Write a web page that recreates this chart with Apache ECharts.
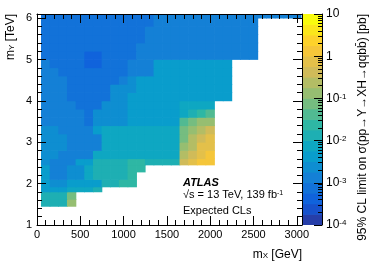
<!DOCTYPE html>
<html><head><meta charset="utf-8">
<script src="https://cdn.jsdelivr.net/npm/echarts@6/dist/echarts.min.js"></script>
<style>html,body{margin:0;padding:0;background:#fff}#c{width:374px;height:269px}</style>
</head><body><div id="c"></div>
<script>
// ---- data (expected 95% CL limit in pb) ----
const mX = [100,200,300,400,500,600,700,800,900,1000,1100,1200,1300,1400,1500,1600,1700,1800,1900,2000,2100,2200,2300,2400,2500,2600,2700,2800,2900,3000]; // GeV, bin centres
const mXBinWidth = 100;
const mYLow  = [1.45,1.62,1.80,1.92,2.10,2.28,2.45,2.60,2.80,3.00,3.20,3.40,3.60,3.80,4.00,4.20,4.40,4.60,4.80,5.00,5.20,5.40,5.60,5.80,6.00]; // TeV
const mYHigh = [1.62,1.80,1.92,2.10,2.28,2.45,2.60,2.80,3.00,3.20,3.40,3.60,3.80,4.00,4.20,4.40,4.60,4.80,5.00,5.20,5.40,5.60,5.80,6.00,6.10];

const row_1p45 = [0.013,0.013,0.013,0.13];
const row_1p62 = [0.013,0.013,0.013,0.075];
const row_1p80 = [4.2e-3,4.2e-3,4.2e-3,7.5e-3,7.5e-3,7.5e-3,0.013];
const row_1p92 = [4.2e-3,2.4e-3,2.4e-3,4.2e-3,4.2e-3,4.2e-3,4.2e-3,0.013,0.013,0.024,0.024];
const row_2p10 = [4.2e-3,1.3e-3,1.3e-3,2.4e-3,2.4e-3,7.5e-3,0.013,0.013,0.013,0.013,0.024];
const row_2p28 = [4.2e-3,1.3e-3,1.3e-3,2.4e-3,2.4e-3,7.5e-3,0.013,0.013,0.013,0.013,0.024,0.024];
const row_2p45 = [2.4e-3,1.3e-3,1.3e-3,1.3e-3,4.2e-3,4.2e-3,0.013,0.013,0.013,0.013,0.024,0.024,0.013,0.013,0.013,0.013,0.42,0.75,1.3,1.3];
const row_2p60 = [2.4e-3,2.4e-3,1.3e-3,1.3e-3,1.3e-3,1.3e-3,7.5e-3,7.5e-3,7.5e-3,7.5e-3,7.5e-3,7.5e-3,7.5e-3,7.5e-3,7.5e-3,7.5e-3,0.24,0.42,0.75,1.3];
const row_2p80 = [2.4e-3,2.4e-3,2.4e-3,1.3e-3,1.3e-3,1.3e-3,1.3e-3,7.5e-3,7.5e-3,7.5e-3,7.5e-3,7.5e-3,7.5e-3,7.5e-3,7.5e-3,7.5e-3,0.13,0.24,0.75,0.75];
const row_3p00 = [2.4e-3,2.4e-3,2.4e-3,1.3e-3,1.3e-3,1.3e-3,1.3e-3,7.5e-3,7.5e-3,7.5e-3,7.5e-3,7.5e-3,7.5e-3,7.5e-3,7.5e-3,7.5e-3,0.075,0.24,0.42,0.75];
const row_3p20 = [2.4e-3,2.4e-3,1.3e-3,1.3e-3,1.3e-3,1.3e-3,4.2e-3,7.5e-3,7.5e-3,7.5e-3,7.5e-3,7.5e-3,7.5e-3,7.5e-3,7.5e-3,7.5e-3,0.075,0.13,0.24,0.42];
const row_3p40 = [1.3e-3,1.3e-3,1.3e-3,1.3e-3,1.3e-3,7.5e-4,2.4e-3,2.4e-3,2.4e-3,2.4e-3,4.2e-3,4.2e-3,4.2e-3,4.2e-3,4.2e-3,4.2e-3,0.042,0.075,0.13,0.13];
const row_3p60 = [1.3e-3,1.3e-3,1.3e-3,1.3e-3,1.3e-3,7.5e-4,2.4e-3,2.4e-3,2.4e-3,2.4e-3,4.2e-3,4.2e-3,4.2e-3,4.2e-3,4.2e-3,4.2e-3,7.5e-3,0.013,0.024,0.042];
const row_3p80 = [1.3e-3,1.3e-3,1.3e-3,1.3e-3,7.5e-4,7.5e-4,7.5e-4,2.4e-3,2.4e-3,2.4e-3,4.2e-3,4.2e-3,4.2e-3,4.2e-3,4.2e-3,4.2e-3,7.5e-3,7.5e-3,7.5e-3,7.5e-3];
const row_4p00 = [1.3e-3,1.3e-3,1.3e-3,7.5e-4,7.5e-4,7.5e-4,7.5e-4,7.5e-4,2.4e-3,2.4e-3,4.2e-3,4.2e-3,4.2e-3,4.2e-3,4.2e-3,4.2e-3,4.2e-3,4.2e-3,4.2e-3,4.2e-3,4.2e-3,4.2e-3];
const row_4p20 = [1.3e-3,1.3e-3,1.3e-3,7.5e-4,7.5e-4,7.5e-4,7.5e-4,7.5e-4,2.4e-3,2.4e-3,2.4e-3,4.2e-3,4.2e-3,4.2e-3,4.2e-3,4.2e-3,4.2e-3,4.2e-3,4.2e-3,4.2e-3,4.2e-3,4.2e-3];
const row_4p40 = [1.3e-3,1.3e-3,1.3e-3,7.5e-4,7.5e-4,7.5e-4,7.5e-4,7.5e-4,7.5e-4,1.3e-3,2.4e-3,4.2e-3,4.2e-3,4.2e-3,4.2e-3,4.2e-3,4.2e-3,4.2e-3,4.2e-3,4.2e-3,4.2e-3,4.2e-3];
const row_4p60 = [1.3e-3,1.3e-3,7.5e-4,7.5e-4,7.5e-4,7.5e-4,7.5e-4,7.5e-4,7.5e-4,7.5e-4,1.3e-3,1.3e-3,1.3e-3,4.2e-3,4.2e-3,4.2e-3,4.2e-3,4.2e-3,4.2e-3,4.2e-3,4.2e-3,4.2e-3];
const row_4p80 = [1.3e-3,7.5e-4,7.5e-4,7.5e-4,7.5e-4,4.2e-4,4.2e-4,7.5e-4,7.5e-4,7.5e-4,1.3e-3,1.3e-3,1.3e-3,4.2e-3,4.2e-3,4.2e-3,4.2e-3,4.2e-3,4.2e-3,4.2e-3,4.2e-3,4.2e-3];
const row_5p00 = [7.5e-4,7.5e-4,7.5e-4,7.5e-4,7.5e-4,4.2e-4,4.2e-4,7.5e-4,7.5e-4,7.5e-4,7.5e-4,1.3e-3,1.3e-3,1.3e-3,1.3e-3,1.3e-3,1.3e-3,1.3e-3,1.3e-3,1.3e-3,1.3e-3,1.3e-3,1.3e-3,1.3e-3,1.3e-3];
const row_5p20 = [7.5e-4,7.5e-4,7.5e-4,7.5e-4,7.5e-4,7.5e-4,7.5e-4,7.5e-4,7.5e-4,7.5e-4,7.5e-4,1.3e-3,1.3e-3,1.3e-3,1.3e-3,1.3e-3,1.3e-3,1.3e-3,1.3e-3,1.3e-3,1.3e-3,1.3e-3,1.3e-3,1.3e-3,1.3e-3];
const row_5p40 = [7.5e-4,7.5e-4,7.5e-4,7.5e-4,7.5e-4,7.5e-4,7.5e-4,7.5e-4,7.5e-4,7.5e-4,7.5e-4,7.5e-4,1.3e-3,1.3e-3,1.3e-3,1.3e-3,1.3e-3,1.3e-3,1.3e-3,1.3e-3,1.3e-3,1.3e-3,1.3e-3,1.3e-3,1.3e-3];
const row_5p60 = [7.5e-4,7.5e-4,7.5e-4,7.5e-4,7.5e-4,7.5e-4,7.5e-4,7.5e-4,7.5e-4,7.5e-4,7.5e-4,7.5e-4,1.3e-3,1.3e-3,1.3e-3,1.3e-3,1.3e-3,1.3e-3,1.3e-3,1.3e-3,1.3e-3,1.3e-3,1.3e-3,1.3e-3,1.3e-3];
const row_5p80 = [7.5e-4,7.5e-4,7.5e-4,7.5e-4,7.5e-4,7.5e-4,7.5e-4,7.5e-4,7.5e-4,7.5e-4,7.5e-4,7.5e-4,7.5e-4,1.3e-3,1.3e-3,1.3e-3,1.3e-3,1.3e-3,1.3e-3,1.3e-3,1.3e-3,1.3e-3,1.3e-3,1.3e-3,1.3e-3];
const row_6p00 = [7.5e-4,7.5e-4,7.5e-4,7.5e-4,7.5e-4,7.5e-4,7.5e-4,7.5e-4,7.5e-4,7.5e-4,7.5e-4,7.5e-4,7.5e-4,1.3e-3,1.3e-3,1.3e-3,1.3e-3,1.3e-3,1.3e-3,1.3e-3,1.3e-3,1.3e-3,1.3e-3,1.3e-3,1.3e-3,1.3e-3,1.3e-3,1.3e-3,1.3e-3,1.3e-3];

const xTicks = [0,500,1000,1500,2000,2500,3000];
const yTicks = [1,2,3,4,5,6];
const zTicks = [1e-4,1e-3,1e-2,1e-1,1,10];
const zLabels = ['10^-4','10^-3','10^-2','10^-1','1','10'];
const nContours = 20;

// ---- assembly ----
const rows = [row_1p45,row_1p62,row_1p80,row_1p92,row_2p10,row_2p28,row_2p45,row_2p60,row_2p80,row_3p00,row_3p20,row_3p40,row_3p60,row_3p80,row_4p00,row_4p20,row_4p40,row_4p60,row_4p80,row_5p00,row_5p20,row_5p40,row_5p60,row_5p80,row_6p00];
const cells = [];
rows.forEach((row, i) => row.forEach((v, j) => {
  if (v == null) return;
  cells.push([mX[j] - mXBinWidth/2, mX[j] + mXBinWidth/2, mYLow[i], mYHigh[i], Math.log10(v), v]);
}));
const zMin = Math.log10(zTicks[0]), zMax = Math.log10(zTicks[zTicks.length-1]);
const zStep = (zMax - zMin) / nContours;

// kBird palette
const S = [0,0.125,0.25,0.375,0.5,0.625,0.75,0.875,1];
const R = [0.2082,0.0592,0.0780,0.0232,0.1802,0.5301,0.8186,0.9956,0.9764];
const G = [0.1664,0.3599,0.5041,0.6419,0.7178,0.7492,0.7328,0.7862,0.9832];
const B = [0.5293,0.8684,0.8385,0.7914,0.6425,0.4662,0.3499,0.1968,0.0539];
function bird(t){
  t = Math.max(0, Math.min(1, t));
  let k = 0; while (k < S.length-2 && t > S[k+1]) k++;
  const f = (t - S[k]) / (S[k+1] - S[k]);
  const c = a => Math.round(255*(a[k] + f*(a[k+1]-a[k])));
  return 'rgb(' + c(R) + ',' + c(G) + ',' + c(B) + ')';
}
const pieces = [];
const barData = [];
for (let k = 0; k < nContours; k++) {
  const lo = zMin + k*zStep, hi = lo + zStep;
  pieces.push({min: lo, max: hi, color: bird((k + 0.99)/nContours)});
  barData.push([0, 1, lo, hi, (lo+hi)/2]);
}

const FONT = '"Liberation Sans", Arial, Helvetica, sans-serif';
const xMinor = []; for (let v = 0; v <= 3000; v += 100) xMinor.push(v);
const yMinor = []; for (let v = 1; v <= 6.1; v += 0.2) yMinor.push(+v.toFixed(2));
const zMajor = zTicks.map(Math.log10);
const zMinor = []; for (let e = zMin; e < zMax; e++) for (let m = 2; m <= 9; m++) zMinor.push(e + Math.log10(m));

function renderCell(params, api){
  const p0 = api.coord([api.value(0), api.value(3)]);
  const p1 = api.coord([api.value(1), api.value(2)]);
  const col = api.visual('color');
  return {type:'rect', shape:{x:p0[0]-0.35, y:p0[1]-0.35, width:p1[0]-p0[0]+0.7, height:p1[1]-p0[1]+0.7},
          style:{fill: col}};
}

const black = {color:'#000', width:1};
function axis(extra){
  return Object.assign({type:'value', z:10, splitLine:{show:false}, axisLine:{show:false, onZero:false, lineStyle:black}}, extra);
}
const plain = v => String(v);

const chart = echarts.init(document.getElementById('c'), null, {renderer:'canvas'});
chart.setOption({
  animation: false,
  backgroundColor: '#fff',
  grid: [
    {left:37, top:14, width:265, height:211, containLabel:false, outerBoundsMode:'none'},
    {left:303, top:14, width:19, height:211, containLabel:false, outerBoundsMode:'none'}
  ],
  xAxis: [
    axis({gridIndex:0, position:'bottom', min:0, max:3060, axisLine:{show:true, onZero:false, lineStyle:black},
      axisTick:{inside:true, length:9, customValues:xTicks, lineStyle:black},
      axisLabel:{customValues:xTicks, formatter:plain, color:'#000', fontSize:11, fontFamily:FONT, margin:4}}),
    axis({gridIndex:0, position:'bottom', min:0, max:3060,
      axisTick:{inside:true, length:5, customValues:xMinor, lineStyle:black}, axisLabel:{show:false}}),
    axis({gridIndex:0, position:'top', min:0, max:3060, axisLine:{show:true, onZero:false, lineStyle:black},
      axisTick:{inside:true, length:9, customValues:xTicks, lineStyle:black}, axisLabel:{show:false}}),
    axis({gridIndex:0, position:'top', min:0, max:3060,
      axisTick:{inside:true, length:5, customValues:xMinor, lineStyle:black}, axisLabel:{show:false}}),
    axis({gridIndex:1, min:0, max:1, show:false})
  ],
  yAxis: [
    axis({gridIndex:0, position:'left', min:1, max:6.1, axisLine:{show:true, onZero:false, lineStyle:black},
      axisTick:{inside:true, length:9, customValues:yTicks, lineStyle:black},
      axisLabel:{customValues:yTicks, formatter:plain, color:'#000', fontSize:11, fontFamily:FONT, margin:5}}),
    axis({gridIndex:0, position:'left', min:1, max:6.1,
      axisTick:{inside:true, length:5, customValues:yMinor, lineStyle:black}, axisLabel:{show:false}}),
    axis({gridIndex:0, position:'right', min:1, max:6.1, axisLine:{show:true, onZero:false, lineStyle:black},
      axisTick:{inside:true, length:9, customValues:yTicks, lineStyle:black}, axisLabel:{show:false}}),
    axis({gridIndex:0, position:'right', min:1, max:6.1,
      axisTick:{inside:true, length:5, customValues:yMinor, lineStyle:black}, axisLabel:{show:false}}),
    axis({gridIndex:1, position:'right', min:zMin, max:zMax, axisLine:{show:true, onZero:false, lineStyle:black},
      axisTick:{inside:true, length:8, customValues:zMajor, lineStyle:black},
      axisLabel:{customValues:zMajor, margin:4, color:'#000', fontFamily:FONT, fontSize:12,
        formatter: v => { const i = zMajor.findIndex(z => Math.abs(z - v) < 1e-6); const s = zLabels[i];
          if (s.indexOf('^') < 0) return s; const p = s.split('^'); return '{b|' + p[0] + '}{s|' + p[1] + '}'; },
        rich:{b:{fontSize:12, fontFamily:FONT, color:'#000', lineHeight:12},
              s:{fontSize:8, fontFamily:FONT, color:'#000', lineHeight:8, verticalAlign:'top', padding:[0,0,6,0]}}}}),
    axis({gridIndex:1, position:'right', min:zMin, max:zMax,
      axisTick:{inside:true, length:4, customValues:zMinor, lineStyle:black}, axisLabel:{show:false}})
  ],
  visualMap: {type:'piecewise', show:false, dimension:4, seriesIndex:[0,1], pieces: pieces},
  series: [
    {type:'custom', xAxisIndex:0, yAxisIndex:0, clip:true, renderItem: renderCell, data: cells, encode:{x:[0,1], y:[2,3]}},
    {type:'custom', xAxisIndex:4, yAxisIndex:4, clip:true, renderItem: renderCell, data: barData, encode:{x:[0,1], y:[2,3]}}
  ],
  graphic: [
    {type:'text', x:302, y:256, style:{text:'{n|m}{d|X}{n| [GeV]}', align:'right', verticalAlign:'middle',
      rich:{n:{fontSize:12, fontFamily:FONT, fill:'#000', lineHeight:12, padding:[0,0,3,0]},
            d:{fontSize:8, fontFamily:FONT, fill:'#000', lineHeight:8}}}},
    {type:'text', x:12, y:14, rotation:Math.PI/2, style:{text:'{n|m}{d|Y}{n| [TeV]}', align:'right', verticalAlign:'middle',
      rich:{n:{fontSize:12, fontFamily:FONT, fill:'#000', lineHeight:12, padding:[0,0,3,0]},
            d:{fontSize:8, fontFamily:FONT, fill:'#000', lineHeight:8}}}},
    {type:'text', x:363, y:14, rotation:Math.PI/2, style:{text:'95% CL limit on σ(pp→Y→XH→qqbb̄) [pb]', align:'right', verticalAlign:'middle',
      fontSize:12, fontFamily:FONT, fill:'#000'}},
    {type:'text', x:183, y:183, style:{text:'ATLAS', align:'left', verticalAlign:'middle', fontSize:11, fontWeight:'bold', fontStyle:'italic', fontFamily:FONT, fill:'#000'}},
    {type:'text', x:183, y:195, style:{text:'{n|√s = 13 TeV, 139 fb}{s|-1}', align:'left', verticalAlign:'middle',
      rich:{n:{fontSize:11, fontFamily:FONT, fill:'#000', lineHeight:11},
            s:{fontSize:7, fontFamily:FONT, fill:'#000', lineHeight:7, verticalAlign:'top', padding:[0,0,6,0]}}}},
    {type:'text', x:183, y:211, style:{text:'Expected CLs', align:'left', verticalAlign:'middle', fontSize:11, fontFamily:FONT, fill:'#000'}}
  ]
});
</script></body></html>
